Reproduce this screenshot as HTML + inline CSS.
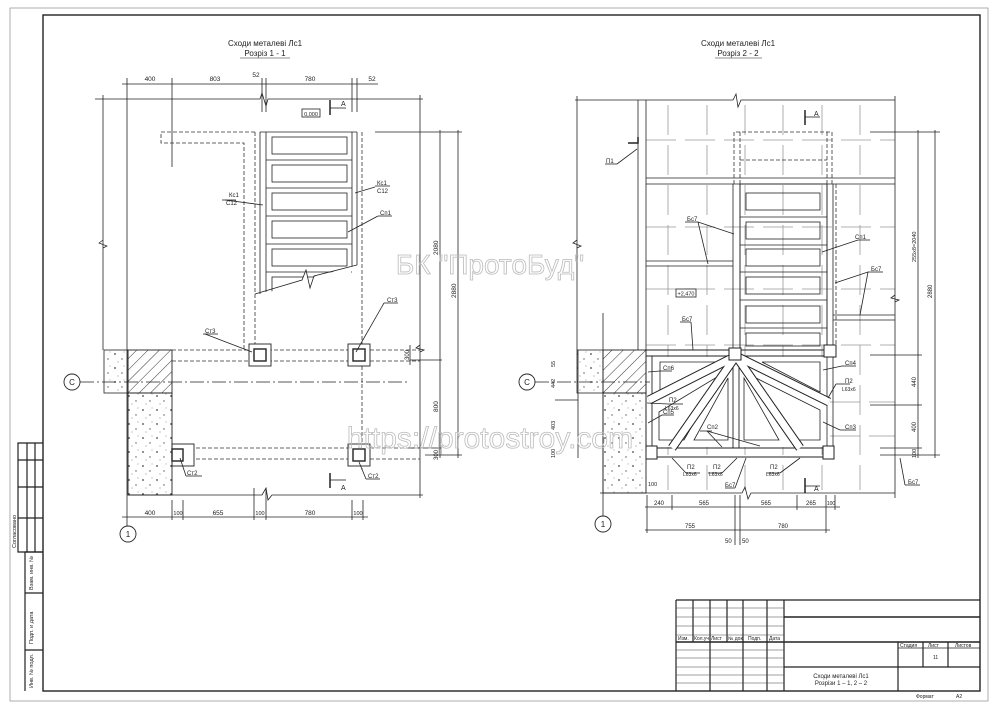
<!DOCTYPE html>
<html><head><meta charset="utf-8"><style>
html,body{margin:0;padding:0;background:#fff;}
svg{display:block;}
text{font-family:"Liberation Sans",sans-serif;fill:#222;}
</style></head><body>
<svg width="1000" height="707" viewBox="0 0 1000 707" xmlns="http://www.w3.org/2000/svg">
<defs>
<pattern id="hatch" width="8" height="8" patternUnits="userSpaceOnUse" patternTransform="rotate(45)">
<line x1="0" y1="0" x2="0" y2="8" stroke="#333" stroke-width="1"/></pattern>
<pattern id="conc" width="14" height="14" patternUnits="userSpaceOnUse">
<circle cx="3" cy="4" r="0.9" fill="#444"/><circle cx="10" cy="9" r="0.7" fill="#555"/><circle cx="6" cy="12" r="0.5" fill="#666"/><circle cx="12" cy="2" r="0.5" fill="#777"/></pattern>
</defs>
<rect width="1000" height="707" fill="#fff"/>
<!-- frames -->
<rect x="10" y="8" width="978" height="693" fill="none" stroke="#999" stroke-width="0.8"/>
<rect x="43" y="15" width="937" height="676" fill="none" stroke="#222" stroke-width="1.4"/>
<!-- left stamp -->
<g stroke="#222" stroke-width="1.2" fill="none">
<polyline points="43,443 18,443 18,552 43,552"/>
<line x1="27" y1="443" x2="27" y2="552"/><line x1="35" y1="443" x2="35" y2="552"/>
<line x1="18" y1="460" x2="43" y2="460"/><line x1="18" y1="487" x2="43" y2="487"/><line x1="18" y1="518" x2="43" y2="518"/>
<polyline points="43,552 25,552 25,691"/><line x1="25" y1="593" x2="43" y2="593"/><line x1="25" y1="650" x2="43" y2="650"/>
</g>
<g font-size="5.5">
<text transform="translate(16,548) rotate(-90)">Согласовано</text>
<text transform="translate(33,590) rotate(-90)">Взам. инв. №</text>
<text transform="translate(33,644) rotate(-90)">Подп. и дата</text>
<text transform="translate(33,688) rotate(-90)">Инв. № подл.</text>
</g>
<!-- title block -->
<g stroke="#222" stroke-width="1.2" fill="none">
<line x1="676" y1="600" x2="980" y2="600"/>
<line x1="676" y1="600" x2="676" y2="691"/>
<line x1="693" y1="600" x2="693" y2="642"/><line x1="710" y1="600" x2="710" y2="691"/><line x1="727" y1="600" x2="727" y2="642"/>
<line x1="743" y1="600" x2="743" y2="691"/><line x1="767" y1="600" x2="767" y2="691"/><line x1="784" y1="600" x2="784" y2="691"/>
<line x1="676" y1="642" x2="980" y2="642" stroke-width="1.5"/>
<line x1="784" y1="617" x2="980" y2="617" stroke-width="1.5"/>
<line x1="784" y1="667" x2="980" y2="667"/>
<line x1="898" y1="642" x2="898" y2="691"/>
<line x1="898" y1="648" x2="980" y2="648" stroke-width="0.8"/>
<line x1="923" y1="642" x2="923" y2="667"/><line x1="948" y1="642" x2="948" y2="667"/>
</g>
<g stroke="#444" stroke-width="0.6">
<line x1="676" y1="608" x2="784" y2="608"/><line x1="676" y1="617" x2="784" y2="617"/><line x1="676" y1="626" x2="784" y2="626"/><line x1="676" y1="635" x2="784" y2="635"/>
<line x1="676" y1="650" x2="784" y2="650"/><line x1="676" y1="658" x2="784" y2="658"/><line x1="676" y1="667" x2="784" y2="667"/><line x1="676" y1="675" x2="784" y2="675"/><line x1="676" y1="683" x2="784" y2="683"/>
</g>
<g font-size="5">
<text x="678" y="640">Изм.</text><text x="694" y="640">Кол.уч</text><text x="711" y="640">Лист</text><text x="728" y="640">№ док.</text><text x="748" y="640">Подп.</text><text x="769" y="640">Дата</text>
<text x="900" y="647">Стадия</text><text x="928" y="647">Лист</text><text x="955" y="647">Листов</text>
<text x="933" y="659">11</text>
<text x="916" y="698">Формат</text><text x="956" y="698">А2</text>
</g>
<text x="841" y="678" font-size="6" text-anchor="middle">Сходи металеві Лс1</text>
<text x="841" y="685" font-size="6" text-anchor="middle">Розрізи 1 – 1, 2 – 2</text>

<!-- ================= LEFT DRAWING ================= -->
<text x="265" y="46" font-size="8" text-anchor="middle">Сходи металеві Лс1</text>
<text x="265" y="56" font-size="8" text-anchor="middle">Розріз 1 - 1</text>
<line x1="240" y1="58" x2="290" y2="58" stroke="#222" stroke-width="0.6"/>
<g stroke="#222" stroke-width="0.8" fill="none">
<line x1="122" y1="84" x2="378" y2="84"/>
<line x1="127" y1="78" x2="127" y2="530"/><line x1="172" y1="78" x2="172" y2="167"/>
<line x1="262" y1="78" x2="262" y2="112"/><line x1="266" y1="78" x2="266" y2="112"/>
<line x1="352" y1="78" x2="352" y2="112"/><line x1="357" y1="78" x2="357" y2="112"/>
<polyline points="95,99 260,99 262,93 266,106 268,99 423,99"/>
<line x1="103" y1="95" x2="103" y2="350"/>
<polyline points="103,240 99,243 107,246 103,248" stroke-width="0.7"/>
<line x1="420" y1="95" x2="420" y2="498"/>
<polyline points="420,345 416,348 424,350 420,352"/>
<polyline points="128,495 262,495 266,488 268,500 272,495 423,495"/>
<line x1="260" y1="132" x2="260" y2="294"/><line x1="266" y1="132" x2="266" y2="292"/>
<line x1="352" y1="132" x2="352" y2="266"/><line x1="357" y1="132" x2="357" y2="265"/>
<line x1="260" y1="132" x2="357" y2="132"/>
<line x1="266" y1="160" x2="352" y2="160"/><line x1="266" y1="188" x2="352" y2="188"/><line x1="266" y1="216" x2="352" y2="216"/><line x1="266" y1="244" x2="352" y2="244"/><line x1="266" y1="272" x2="352" y2="272"/>
<rect x="272" y="137" width="75" height="17"/><rect x="272" y="165" width="75" height="17"/><rect x="272" y="193" width="75" height="17"/><rect x="272" y="221" width="75" height="17"/><rect x="272" y="249" width="75" height="17"/>
<rect x="272" y="277" width="75" height="17"/>
</g>
<polygon points="267,293 302,281 306,271 310,289 314,277 351,267 351,300 267,300" fill="#fff"/>
<polyline points="255,294 302,280 306,270 310,288 314,276 357,265" fill="none" stroke="#222" stroke-width="0.8"/>
<g stroke="#333" stroke-width="0.8" fill="none" stroke-dasharray="4,2">
<polyline points="255,132 161,132 161,143 244,143 244,350"/>
<line x1="255" y1="132" x2="255" y2="350"/>
<line x1="362" y1="132" x2="362" y2="470"/>
<line x1="172" y1="350" x2="420" y2="350"/><line x1="172" y1="361" x2="420" y2="361"/>
<line x1="190" y1="448" x2="420" y2="448"/><line x1="190" y1="459" x2="420" y2="459"/>
</g>
<g stroke="#222" stroke-width="0.9" fill="#fff">
<rect x="249" y="344" width="22" height="22"/><rect x="254" y="349" width="12" height="12" stroke-width="1.4"/>
<rect x="348" y="344" width="22" height="22"/><rect x="353" y="349" width="12" height="12" stroke-width="1.4"/>
<rect x="172" y="444" width="22" height="22"/><rect x="172" y="449" width="11" height="12" stroke-width="1.4"/>
<rect x="348" y="444" width="22" height="22"/><rect x="353" y="449" width="12" height="12" stroke-width="1.4"/>
</g>
<rect x="104" y="350" width="24" height="43" fill="url(#conc)" stroke="#222" stroke-width="0.8"/>
<rect x="128" y="350" width="44" height="43" fill="url(#hatch)" stroke="#222" stroke-width="0.9"/>
<rect x="128" y="393" width="44" height="102" fill="url(#conc)" stroke="#222" stroke-width="0.9"/>
<line x1="80" y1="382" x2="410" y2="382" stroke="#222" stroke-width="0.8" stroke-dasharray="14,3,2,3"/>
<circle cx="72" cy="382" r="8" fill="#fff" stroke="#222" stroke-width="0.9"/><text x="72" y="385" font-size="8" text-anchor="middle">C</text>
<circle cx="128" cy="534" r="8" fill="#fff" stroke="#222" stroke-width="0.9"/><text x="128" y="537" font-size="8" text-anchor="middle">1</text>
<g stroke="#222" stroke-width="0.8" fill="none">
<line x1="375" y1="132" x2="462" y2="132"/>
<line x1="440" y1="130" x2="440" y2="458"/><line x1="458" y1="130" x2="458" y2="458"/>
<line x1="410" y1="360" x2="442" y2="360"/>
<line x1="410" y1="345" x2="410" y2="365"/>
<line x1="425" y1="455" x2="462" y2="455"/><line x1="410" y1="448" x2="442" y2="448"/>
<line x1="122" y1="517" x2="368" y2="517"/>
<line x1="172" y1="500" x2="172" y2="520"/><line x1="183" y1="500" x2="183" y2="520"/>
<line x1="254" y1="488" x2="254" y2="520"/><line x1="266" y1="488" x2="266" y2="520"/>
<line x1="352" y1="500" x2="352" y2="520"/><line x1="363" y1="500" x2="363" y2="520"/>
<line x1="330" y1="100" x2="330" y2="115" stroke-width="1.5"/><line x1="330" y1="108" x2="346" y2="108"/>
<line x1="330" y1="473" x2="330" y2="488" stroke-width="1.5"/><line x1="330" y1="480" x2="346" y2="480"/>
<rect x="302" y="109" width="18" height="8"/>
<line x1="225" y1="200" x2="263" y2="205"/><line x1="222" y1="200" x2="236" y2="200"/>
<line x1="375" y1="187" x2="355" y2="193"/><line x1="375" y1="186" x2="390" y2="186"/>
<line x1="378" y1="216" x2="348" y2="232"/><line x1="378" y1="216" x2="392" y2="216"/>
<line x1="205" y1="334" x2="252" y2="352"/><line x1="203" y1="334" x2="218" y2="334"/>
<line x1="384" y1="303" x2="356" y2="352"/><line x1="384" y1="303" x2="398" y2="303"/>
<line x1="180" y1="458" x2="186" y2="476"/><line x1="186" y1="476" x2="202" y2="476"/>
<line x1="359" y1="462" x2="366" y2="479"/><line x1="366" y1="479" x2="380" y2="479"/>
</g>
<g font-size="6.5">
<text x="150" y="81" text-anchor="middle">400</text><text x="215" y="81" text-anchor="middle">803</text><text x="256" y="77" text-anchor="middle">52</text><text x="310" y="81" text-anchor="middle">780</text><text x="372" y="81" text-anchor="middle">52</text>
<text x="311" y="116" font-size="5.5" text-anchor="middle">0,000</text>
<text x="341" y="106" font-size="7">A</text><text x="341" y="490" font-size="7">A</text>
<text x="229" y="197" font-size="6">Кс1</text><text x="226" y="205" font-size="6">С12</text>
<text x="377" y="185" font-size="6">Кс1</text><text x="377" y="193" font-size="6">С12</text>
<text x="380" y="215" font-size="6">Сп1</text>
<text x="205" y="333" font-size="6">Ст3</text><text x="387" y="302" font-size="6">Ст3</text>
<text x="187" y="475" font-size="6">Ст2</text><text x="368" y="478" font-size="6">Ст2</text>
<text transform="translate(438,255) rotate(-90)">2080</text>
<text transform="translate(456,298) rotate(-90)">2880</text>
<text transform="translate(409,360) rotate(-90)" font-size="6">300</text>
<text transform="translate(438,412) rotate(-90)">800</text>
<text transform="translate(438,460) rotate(-90)" font-size="6">300</text>
<text x="150" y="515" text-anchor="middle">400</text><text x="178" y="515" text-anchor="middle" font-size="5.5">100</text><text x="218" y="515" text-anchor="middle">655</text><text x="260" y="515" text-anchor="middle" font-size="5.5">100</text><text x="310" y="515" text-anchor="middle">780</text><text x="358" y="515" text-anchor="middle" font-size="5.5">100</text>
</g>

<!-- ================= RIGHT DRAWING ================= -->
<text x="738" y="46" font-size="8" text-anchor="middle">Сходи металеві Лс1</text>
<text x="738" y="56" font-size="8" text-anchor="middle">Розріз 2 - 2</text>
<line x1="715" y1="58" x2="762" y2="58" stroke="#222" stroke-width="0.6"/>
<g stroke="#999" stroke-width="0.8" fill="none" stroke-dasharray="30,10">
<line x1="668" y1="105" x2="668" y2="490"/><line x1="707" y1="105" x2="707" y2="490"/><line x1="745" y1="105" x2="745" y2="490"/>
<line x1="783" y1="105" x2="783" y2="490"/><line x1="822" y1="105" x2="822" y2="490"/><line x1="860" y1="105" x2="860" y2="490"/>
</g>
<g stroke="#999" stroke-width="0.8" fill="none" stroke-dasharray="30,9">
<line x1="646" y1="140" x2="895" y2="140"/><line x1="646" y1="227" x2="895" y2="227"/><line x1="646" y1="289" x2="895" y2="289"/><line x1="646" y1="345" x2="895" y2="345"/><line x1="830" y1="402" x2="895" y2="402"/><line x1="830" y1="436" x2="895" y2="436"/>
</g>
<g stroke="#222" stroke-width="0.8" fill="none">
<polyline points="575,100 733,100 736,94 738,107 741,100 895,100"/>
<line x1="895" y1="96" x2="895" y2="498"/>
<polyline points="895,295 891,298 899,300 895,302"/>
<line x1="577" y1="96" x2="577" y2="350"/>
<polyline points="577,240 573,243 581,246 577,248"/>
<line x1="638" y1="100" x2="638" y2="350"/><line x1="646" y1="100" x2="646" y2="350"/>
<polyline points="628,143 638,143 638,137" stroke-width="1.5"/>
<line x1="603" y1="313" x2="603" y2="516"/>
<polyline points="600,493 742,493 745,487 748,499 751,493 895,493"/>
<line x1="646" y1="178" x2="895" y2="178"/><line x1="646" y1="184" x2="895" y2="184"/>
<line x1="646" y1="261" x2="733" y2="261"/><line x1="646" y1="266" x2="733" y2="266"/>
<line x1="833" y1="315" x2="895" y2="315"/><line x1="833" y1="320" x2="895" y2="320"/>
<line x1="733" y1="184" x2="733" y2="350"/><line x1="740" y1="184" x2="740" y2="350"/>
<line x1="827" y1="184" x2="827" y2="455"/><line x1="833" y1="184" x2="833" y2="455"/>
<rect x="740" y="184" width="87" height="166"/>
<line x1="740" y1="217" x2="827" y2="217"/><line x1="740" y1="245" x2="827" y2="245"/><line x1="740" y1="272" x2="827" y2="272"/><line x1="740" y1="300" x2="827" y2="300"/><line x1="740" y1="328" x2="827" y2="328"/>
<rect x="746" y="193" width="74" height="17"/><rect x="746" y="222" width="74" height="17"/><rect x="746" y="249" width="74" height="17"/><rect x="746" y="277" width="74" height="17"/><rect x="746" y="306" width="74" height="17"/><rect x="746" y="333" width="74" height="13"/>
</g>
<g stroke="#333" stroke-width="0.8" fill="none" stroke-dasharray="4,2">
<polyline points="734,184 734,132 832,132 832,184"/><line x1="740" y1="132" x2="740" y2="184"/><line x1="827" y1="132" x2="827" y2="184"/>
<line x1="740" y1="160" x2="827" y2="160"/><line x1="836" y1="184" x2="836" y2="350"/>
</g>
<rect x="647" y="357" width="179" height="90" fill="#fff"/>
<g stroke="#222" stroke-width="0.9" fill="none">
<line x1="646" y1="350" x2="833" y2="350"/><line x1="646" y1="356" x2="833" y2="356"/>
<line x1="646" y1="350" x2="646" y2="457"/><line x1="652" y1="356" x2="652" y2="448"/>
<line x1="733" y1="356" x2="733" y2="448"/><line x1="739" y1="356" x2="739" y2="448"/>
<line x1="646" y1="448" x2="833" y2="448"/><line x1="646" y1="457" x2="833" y2="457"/>
</g>
<g stroke="#222" stroke-width="0.8" fill="none">
<polygon points="660,362 720,362 660,392"/>
<polygon points="659,412 722,374 684,440 659,440"/>
<polygon points="728,378 728,440 694,440"/>
<polygon points="744,378 744,440 779,440"/>
<polygon points="762,362 820,362 820,392"/>
<polygon points="752,376 820,410 820,440 790,440"/>
</g>
<g stroke="#222" stroke-width="9" stroke-linecap="butt">
<line x1="736" y1="356" x2="649" y2="400"/><line x1="736" y1="356" x2="672" y2="448"/><line x1="736" y1="356" x2="800" y2="448"/><line x1="736" y1="356" x2="829" y2="402"/>
</g>
<g stroke="#fff" stroke-width="7" stroke-linecap="butt">
<line x1="736" y1="356" x2="649" y2="400"/><line x1="736" y1="356" x2="672" y2="448"/><line x1="736" y1="356" x2="800" y2="448"/><line x1="736" y1="356" x2="829" y2="402"/>
</g>
<g stroke="#222" stroke-width="1" fill="#fff">
<rect x="729" y="348" width="12" height="12"/><rect x="824" y="345" width="12" height="12"/>
<rect x="646" y="446" width="11" height="13"/><rect x="823" y="446" width="11" height="13"/>
</g>
<rect x="676" y="289" width="20" height="8" fill="#fff" stroke="#222" stroke-width="0.8"/>
<text x="686" y="295.5" font-size="5.5" text-anchor="middle">+2,470</text>
<rect x="577" y="350" width="26" height="43" fill="url(#conc)" stroke="#222" stroke-width="0.8"/>
<rect x="603" y="350" width="43" height="43" fill="url(#hatch)" stroke="#222" stroke-width="0.9"/>
<rect x="603" y="393" width="43" height="100" fill="url(#conc)" stroke="#222" stroke-width="0.9"/>
<line x1="535" y1="382" x2="650" y2="382" stroke="#222" stroke-width="0.8" stroke-dasharray="14,3,2,3"/>
<line x1="555" y1="400" x2="578" y2="400" stroke="#222" stroke-width="0.8"/>
<circle cx="527" cy="382" r="8" fill="#fff" stroke="#222" stroke-width="0.9"/><text x="527" y="385" font-size="8" text-anchor="middle">C</text>
<circle cx="603" cy="524" r="8" fill="#fff" stroke="#222" stroke-width="0.9"/><text x="603" y="527" font-size="8" text-anchor="middle">1</text>
<g stroke="#222" stroke-width="0.8" fill="none">
<line x1="578" y1="350" x2="578" y2="458"/>
<line x1="870" y1="132" x2="940" y2="132"/>
<line x1="918" y1="130" x2="918" y2="458"/><line x1="935" y1="130" x2="935" y2="458"/>
<line x1="870" y1="355" x2="922" y2="355"/><line x1="870" y1="405" x2="922" y2="405"/>
<line x1="880" y1="448" x2="922" y2="448"/><line x1="880" y1="455" x2="940" y2="455"/>
<line x1="645" y1="507" x2="840" y2="507"/>
<line x1="647" y1="495" x2="647" y2="533"/><line x1="672" y1="495" x2="672" y2="510"/><line x1="735" y1="495" x2="735" y2="545"/><line x1="740" y1="495" x2="740" y2="545"/>
<line x1="797" y1="495" x2="797" y2="510"/><line x1="826" y1="495" x2="826" y2="533"/><line x1="835" y1="495" x2="835" y2="510"/>
<line x1="645" y1="530" x2="830" y2="530"/>
<line x1="805" y1="110" x2="805" y2="125" stroke-width="1.5"/><line x1="805" y1="117" x2="820" y2="117"/>
<line x1="805" y1="478" x2="805" y2="493" stroke-width="1.5"/><line x1="805" y1="486" x2="820" y2="486"/>
<line x1="617" y1="164" x2="637" y2="149"/><line x1="605" y1="164" x2="617" y2="164"/>
<line x1="698" y1="222" x2="734" y2="234"/><line x1="698" y1="222" x2="708" y2="264"/><line x1="685" y1="222" x2="698" y2="222"/>
<line x1="858" y1="240" x2="822" y2="252"/><line x1="858" y1="240" x2="870" y2="240"/>
<line x1="868" y1="272" x2="835" y2="283"/><line x1="868" y1="272" x2="860" y2="315"/><line x1="868" y1="272" x2="883" y2="272"/>
<line x1="691" y1="322" x2="693" y2="350"/><line x1="680" y1="322" x2="691" y2="322"/>
<line x1="648" y1="372" x2="660" y2="371"/><line x1="660" y1="371" x2="672" y2="371"/>
<line x1="647" y1="403" x2="668" y2="404"/><line x1="668" y1="404" x2="683" y2="404"/>
<line x1="648" y1="423" x2="662" y2="415"/><line x1="662" y1="415" x2="674" y2="415"/>
<line x1="707" y1="431" x2="722" y2="447"/><line x1="707" y1="431" x2="760" y2="446"/><line x1="700" y1="431" x2="712" y2="431"/>
<line x1="823" y1="370" x2="842" y2="366"/><line x1="842" y1="366" x2="856" y2="366"/>
<line x1="828" y1="398" x2="836" y2="384"/><line x1="836" y1="384" x2="850" y2="384"/>
<line x1="823" y1="422" x2="840" y2="430"/><line x1="840" y1="430" x2="856" y2="430"/>
<line x1="672" y1="458" x2="686" y2="473"/><line x1="686" y1="473" x2="700" y2="473"/>
<line x1="737" y1="458" x2="722" y2="473"/><line x1="708" y1="473" x2="722" y2="473"/>
<line x1="800" y1="458" x2="780" y2="473"/><line x1="767" y1="473" x2="780" y2="473"/>
<line x1="746" y1="458" x2="735" y2="488"/><line x1="725" y1="488" x2="735" y2="488"/>
<line x1="900" y1="458" x2="905" y2="485"/><line x1="905" y1="485" x2="920" y2="485"/>
</g>
<g font-size="6">
<text x="606" y="163">П1</text>
<text x="687" y="221">Бс7</text><text x="855" y="239">Сп1</text><text x="871" y="271">Бс7</text><text x="682" y="321">Бс7</text>
<text x="663" y="370">Сп6</text><text x="669" y="402">П2</text><text x="665" y="410" font-size="5">L63x6</text>
<text x="663" y="414">Сп5</text><text x="707" y="429">Сп2</text>
<text x="845" y="365">Сп4</text><text x="845" y="383">П2</text><text x="842" y="391" font-size="5">L63x6</text>
<text x="845" y="429">Сп3</text>
<text x="687" y="469">П2</text><text x="683" y="476" font-size="5">L63x6</text>
<text x="713" y="469">П2</text><text x="709" y="476" font-size="5">L63x6</text>
<text x="770" y="469">П2</text><text x="766" y="476" font-size="5">L63x6</text>
<text x="725" y="487">Бс7</text><text x="908" y="484">Бс7</text>
<text x="814" y="116" font-size="7">A</text><text x="814" y="491" font-size="7">A</text>
<text transform="translate(916,262) rotate(-90)" font-size="5.5">255x8=2040</text>
<text transform="translate(932,298) rotate(-90)" font-size="6">2880</text>
<text transform="translate(916,387) rotate(-90)" font-size="6">440</text>
<text transform="translate(916,432) rotate(-90)" font-size="6">400</text>
<text transform="translate(916,458) rotate(-90)" font-size="5.5">100</text>
<text transform="translate(555,367) rotate(-90)" font-size="5.5">55</text>
<text transform="translate(555,388) rotate(-90)" font-size="5.5">442</text>
<text transform="translate(555,430) rotate(-90)" font-size="5.5">403</text>
<text transform="translate(555,458) rotate(-90)" font-size="5.5">100</text>
<text x="648" y="486" font-size="5.5">100</text>
<text x="659" y="505" text-anchor="middle">240</text><text x="704" y="505" text-anchor="middle">565</text><text x="766" y="505" text-anchor="middle">565</text><text x="811" y="505" text-anchor="middle">265</text><text x="831" y="505" font-size="5" text-anchor="middle">100</text>
<text x="690" y="528" text-anchor="middle">755</text><text x="783" y="528" text-anchor="middle">780</text>
<text x="725" y="543">50</text><text x="742" y="543">50</text>
</g>
<text x="490" y="274" font-size="28" text-anchor="middle" stroke="#bbb" stroke-width="0.8" style="fill:none">БК "ПротоБуд"</text>
<text x="490" y="448" font-size="30" text-anchor="middle" stroke="#bbb" stroke-width="0.8" style="fill:none">https://protostroy.com</text>
</svg>
</body></html>
